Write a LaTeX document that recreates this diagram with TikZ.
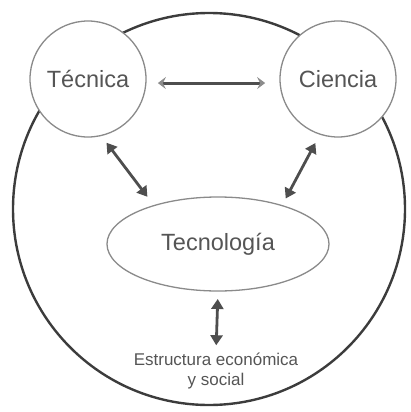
\documentclass[tikz,border=0pt]{standalone}
\usepackage{fontspec}
\setmainfont{Liberation Sans}
\usetikzlibrary{arrows.meta,shapes.geometric}
\definecolor{txtgray}{HTML}{555555}
\definecolor{rimgray}{HTML}{8A8A8A}
\definecolor{ringgray}{HTML}{3C3C3C}
\definecolor{arrgray}{HTML}{4E4E4E}
\definecolor{tipgray}{HTML}{8C8C8C}

\begin{document}
\begin{tikzpicture}[x=1pt,y=-1pt,
  field/.style={circle,draw=rimgray,line width=1.3pt,fill=white,minimum size=116pt,
                inner sep=0pt,outer sep=0pt,text=txtgray,font=\fontsize{23.5}{28}\selectfont},
  link/.style={draw=arrgray,line width=2.8pt,
               {Triangle[length=10pt,width=12pt]}-{Triangle[length=10pt,width=12pt]}},
  bridge/.style={draw=arrgray,line width=3pt,
               {Stealth[length=8pt,width=12pt,inset=3pt,tipgray]}-{Stealth[length=8pt,width=12pt,inset=3pt,tipgray]}}]
 \useasboundingbox (0,0) rectangle (410,412);
 % outer ring
 \draw[ringgray,line width=2.4pt] (209,209) circle[radius=196pt];
 \node[field] (tec) at (88,79) {Técnica};
 \node[field] (cie) at (338,79) {Ciencia};
 \node[ellipse,draw=rimgray,line width=1.3pt,minimum width=222pt,minimum height=94pt,
       inner sep=0pt,outer sep=0pt,text=txtgray,font=\fontsize{23.5}{28}\selectfont] (tgy) at (218,244) {Tecnología};
 \node[align=center,inner sep=0pt,text=txtgray,font=\fontsize{17}{20}\selectfont] (est) at (216,370.5)
   {Estructura económica\\y social};
 % connectors
 \draw[bridge,shorten <=12pt,shorten >=15pt] (tec.-4) -- (cie.184);
 \draw[link,shorten <=9pt,shorten >=11pt] (tec.-77) -- (tgy.149);
 \draw[link,shorten <=10pt,shorten >=8pt] (cie.-108) -- (tgy.31.5);
 \draw[link,shorten <=8pt,shorten >=7pt] (tgy.south) -- (est.north);
\end{tikzpicture}
\end{document}
